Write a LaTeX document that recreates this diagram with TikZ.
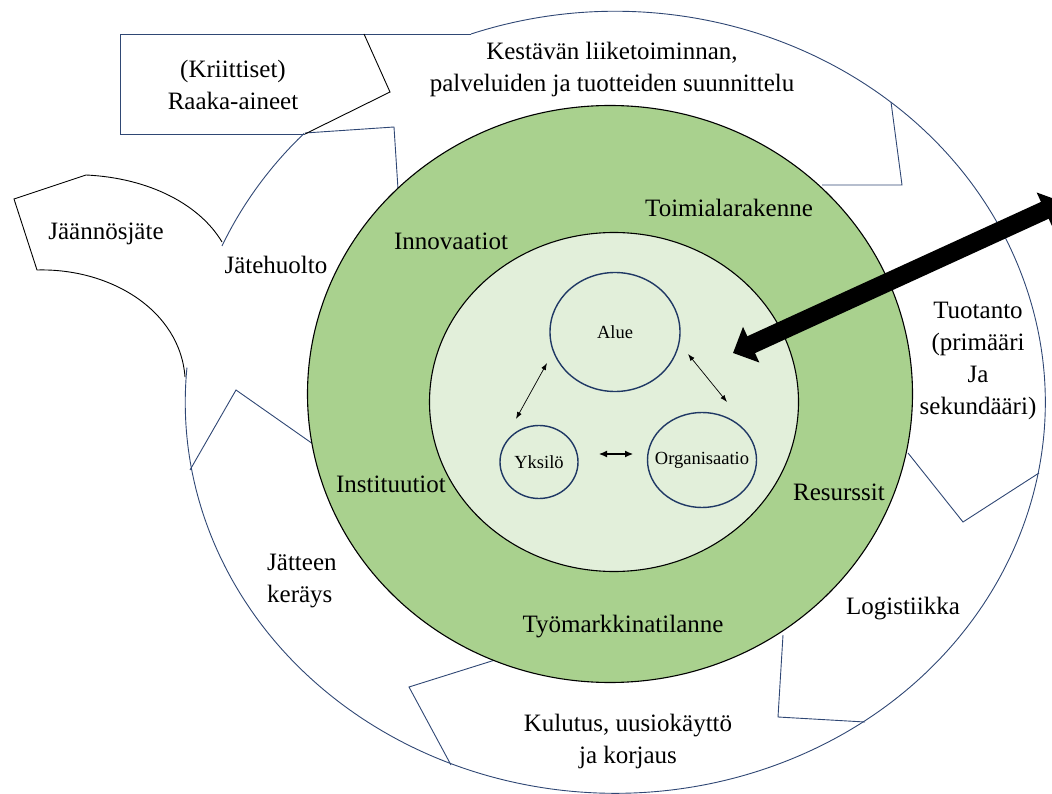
\documentclass[tikz,border=0pt]{standalone}
\usepackage{fontspec}
\setmainfont{Liberation Serif}
\usetikzlibrary{arrows.meta,shapes.geometric}
\definecolor{ringblue}{HTML}{2F4774}
\definecolor{unitblue}{HTML}{1F3864}
\definecolor{fieldgreen}{HTML}{A9D18E}
\definecolor{coregreen}{HTML}{E2EFDA}
\tikzset{
	ring/.style={draw=ringblue, line width=0.9pt},
	spill/.style={draw=black, line width=0.9pt},
	phase/.style={font=\fontsize{25}{32}\selectfont, align=center, inner sep=0pt},
	layer/.style={ellipse, draw=black, line width=1.1pt},
	unit/.style={ellipse, draw=unitblue, line width=1.4pt, inner sep=0pt,
			font=\fontsize{18.5}{22}\selectfont},
	twoway/.style={{Latex[length=7pt,width=5pt]}-{Latex[length=7pt,width=5pt]}, line width=0.7pt},
	bigway/.style={{Triangle[length=20pt,width=38pt]}-{Triangle[length=20pt,width=38pt]}, line width=18.5pt}
}

\begin{document}
\begin{tikzpicture}[x=1pt, y=-1pt]
	\useasboundingbox (0,0) rectangle (1052,794);

	% outer cycle
	\draw[ring] (471,34) arc[start angle=109.6, end angle=-185.1, x radius=430pt, y radius=391pt];
	\draw[ring] (222,246) arc[start angle=156.4, end angle=136.5, x radius=430pt, y radius=391pt];
	\draw[ring] (891,102) -- (902,185) -- (822,185);
	\draw[ring] (1039,473) -- (963,522) -- (908,453);
	\draw[ring] (865,722) -- (778,717) -- (783,635);
	\draw[ring] (451,765) -- (409,687) -- (495,660);
	\draw[ring] (190,470) -- (236,390) -- (313,444);
	\draw[ring] (305,133) -- (394,127) -- (398,189);
	\draw[ring] (471,34) -- (120,34) -- (120,134) -- (305,134);
	\draw[spill] (305,134) -- (390,92) -- (364,34);
	\draw[spill] (185,377) .. controls (180,310) and (110,268) .. (37,270) -- (14,199) -- (86,175)
		.. controls (150,178) and (200,205) .. (222,242);

	\node[layer, fill=fieldgreen, minimum width=605pt, minimum height=577pt] (field) at (610,394) {};
	\node[layer, fill=coregreen, minimum width=369pt, minimum height=339pt] (core) at (614,402) {};

	\node[unit, minimum width=130pt, minimum height=119pt] (alue) at (615,332) {Alue};
	\node[unit, minimum width=78pt, minimum height=73pt] (yksilo) at (539,462) {Yksilö};
	\node[unit, minimum width=109pt, minimum height=95pt] (organisaatio) at (702,460) {\makebox[0pt]{Organisaatio}};

	\coordinate (ay1) at (547,363);
	\coordinate (ay2) at (516,419);
	\coordinate (ao1) at (688,354);
	\coordinate (ao2) at (727,402);
	\coordinate (yo1) at (599,454);
	\coordinate (yo2) at (633,454);
	\draw[twoway] (ay1) -- (ay2);
	\draw[twoway] (ao1) -- (ao2);
	\draw[{Latex[length=8pt,width=7pt]}-{Latex[length=8pt,width=7pt]}, line width=1.1pt] (yo1) -- (yo2);

	\coordinate (hub) at (733,353);
	\coordinate (rim) at (1063,202);
	\draw[bigway] (hub) -- (rim);

	\node[phase] (suunnittelu) at (612,69) {Kestävän liiketoiminnan,\\palveluiden ja tuotteiden suunnittelu};
	\node[phase] (raaka) at (233,85) {(Kriittiset)\\Raaka-aineet};
	\node[phase] (jaannos) at (106,234) {Jäännösjäte};
	\node[phase] (jatehuolto) at (276,265) {Jätehuolto};
	\node[phase] (tuotanto) at (978,361) {Tuotanto\\(primääri\\Ja\\sekundääri)};
	\node[phase, align=left, anchor=west] (keraily) at (267,581) {Jätteen\\keräys};
	\node[phase] (logistiikka) at (903,609) {Logistiikka};
	\node[phase] (kulutus) at (628,741) {Kulutus, uusiokäyttö\\ja korjaus};

	\node[phase] (innovaatiot) at (451,241) {Innovaatiot};
	\node[phase] (toimiala) at (729,208) {Toimialarakenne};
	\node[phase] (instituutiot) at (391,484) {Instituutiot};
	\node[phase] (resurssit) at (839,492) {Resurssit};
	\node[phase] (tyomarkkina) at (623,627) {Työmarkkinatilanne};
\end{tikzpicture}
\end{document}
